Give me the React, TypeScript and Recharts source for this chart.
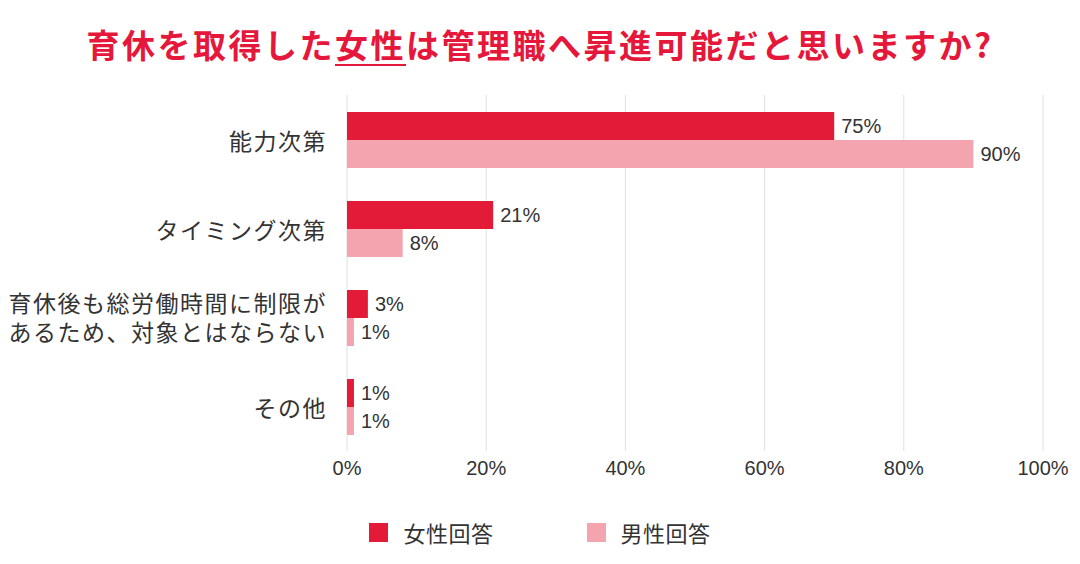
import React from "react";
import { BarChart, Bar, XAxis, YAxis, CartesianGrid, LabelList } from "recharts";

// ---- data ----
const categories = [
  "能力次第",
  "タイミング次第",
  "育休後も総労働時間に制限が\nあるため、対象とはならない",
  "その他",
];
// bar lengths as drawn in the picture
const femaleValues = [70, 21, 3, 1];
const maleValues = [90, 8, 1, 1];
// value labels as printed in the picture
const femaleLabels = ["75%", "21%", "3%", "1%"];
const maleLabels = ["90%", "8%", "1%", "1%"];
const xTicks = [0, 20, 40, 60, 80, 100];
const seriesNames = ["女性回答", "男性回答"];
const titleBefore = "育休を取得した";
const titleUnderlined = "女性";
const titleAfter = "は管理職へ昇進可能だと思いますか?";

const RED = "#e31a38";
const PINK = "#f4a4ae";
const TEXT = "#333333";
const JP = "'Noto Sans CJK JP', 'Noto Sans', sans-serif";
const NUM = "'Liberation Sans', Arial, sans-serif";

const data = categories.map((name, i) => ({
  name,
  female: femaleValues[i],
  male: maleValues[i],
  femaleLabel: femaleLabels[i],
  maleLabel: maleLabels[i],
}));

const YTick = (props: any) => {
  const { x, y, payload } = props;
  const lines = String(payload.value).split("\n");
  const lh = 29.5;
  const start = y - ((lines.length - 1) * lh) / 2 - (lines.length > 1 ? 1 : 0);
  return (
    <text
      x={x}
      y={start}
      textAnchor="end"
      fill={TEXT}
      fontSize={23}
      fontFamily={JP}
      style={{ letterSpacing: "1.5px" }}
    >
      {lines.map((l, i) => (
        <tspan key={i} x={x} y={start + i * lh} dominantBaseline="central">
          {l}
        </tspan>
      ))}
    </text>
  );
};

export default function App() {
  const colors = [RED, PINK];
  return (
    <div
      style={{
        position: "absolute",
        left: 0,
        top: 0,
        width: 1080,
        height: 564,
        background: "#fff",
        overflow: "hidden",
      }}
    >
      <div
        style={{
          position: "absolute",
          top: 28,
          left: 0,
          width: 1080,
          textAlign: "center",
          fontFamily: JP,
          fontWeight: 700,
          fontSize: 33,
          lineHeight: "33px",
          letterSpacing: "2.5px",
          color: "#e5173b",
          whiteSpace: "nowrap",
        }}
      >
        {titleBefore}
        <span
          style={{
            display: "inline-block",
            borderBottom: "2px solid #e5173b",
            paddingBottom: 3,
            lineHeight: "33px",
          }}
        >
          {titleUnderlined}
        </span>
        {titleAfter}
      </div>

      <div style={{ position: "absolute", left: 0, top: 0 }}>
        <BarChart
          width={1080}
          height={564}
          data={data}
          layout="vertical"
          margin={{ top: 95, right: 37, left: 0, bottom: 73 }}
          barSize={28}
          barGap={0}
        >
          <CartesianGrid horizontal={false} stroke="#e0e0e0" strokeWidth={1} />
          <XAxis
            type="number"
            domain={[0, 100]}
            ticks={xTicks}
            tickFormatter={(v: number) => `${v}%`}
            axisLine={false}
            tickLine={false}
            tickSize={0}
            tickMargin={10}
            height={40}
            interval={0}
            tick={{ fontSize: 20, fill: TEXT, fontFamily: NUM }}
          />
          <YAxis
            type="category"
            dataKey="name"
            width={347}
            axisLine={false}
            tickLine={false}
            tickSize={0}
            tickMargin={20}
            interval={0}
            tick={<YTick />}
          />
          <Bar dataKey="female" fill={colors[0]} isAnimationActive={false}>
            <LabelList
              dataKey="femaleLabel"
              position="right"
              offset={7}
              fill={TEXT}
              fontSize={20}
              fontFamily={NUM}
            />
          </Bar>
          <Bar dataKey="male" fill={colors[1]} isAnimationActive={false}>
            <LabelList
              dataKey="maleLabel"
              position="right"
              offset={7}
              fill={TEXT}
              fontSize={20}
              fontFamily={NUM}
            />
          </Bar>
        </BarChart>
      </div>

      <div
        style={{
          position: "absolute",
          top: 516,
          left: 0,
          width: 1080,
          height: 32,
          display: "flex",
          justifyContent: "center",
          alignItems: "center",
          fontFamily: JP,
          fontSize: 22,
          color: TEXT,
        }}
      >
        {seriesNames.map((n, i) => (
          <div
            key={n}
            style={{
              display: "flex",
              alignItems: "center",
              marginLeft: i === 0 ? 0 : 93,
            }}
          >
            <div
              style={{ width: 19, height: 19, background: colors[i], marginRight: 15 }}
            />
            <span style={{ letterSpacing: "0.5px" }}>{n}</span>
          </div>
        ))}
      </div>
    </div>
  );
}
